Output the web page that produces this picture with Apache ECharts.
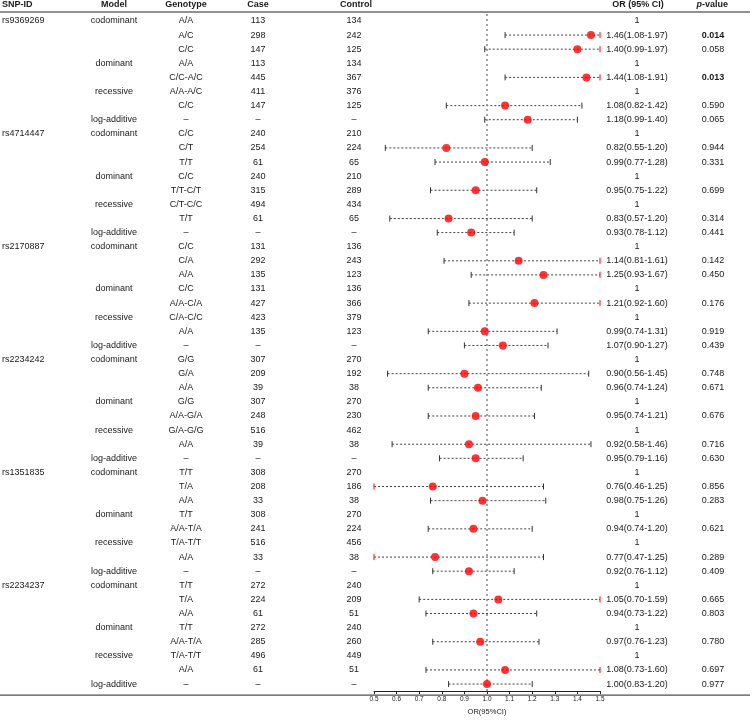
<!DOCTYPE html>
<html><head><meta charset="utf-8">
<script src="https://cdn.jsdelivr.net/npm/echarts@6/dist/echarts.min.js"></script>
<style>html,body{margin:0;padding:0;background:#fff}#c{width:752px;height:721px}</style>
</head><body><div id="c"></div>
<script>
const snpIds = ['rs9369269','rs4714447','rs2170887','rs2234242','rs1351835','rs2234237'];
const modelLabels = ['codominant','','','dominant','','recessive','','log-additive'];
const genotypes = [
 'A/A','A/C','C/C','A/A','C/C-A/C','A/A-A/C','C/C','–',
 'C/C','C/T','T/T','C/C','T/T-C/T','C/T-C/C','T/T','–',
 'C/C','C/A','A/A','C/C','A/A-C/A','C/A-C/C','A/A','–',
 'G/G','G/A','A/A','G/G','A/A-G/A','G/A-G/G','A/A','–',
 'T/T','T/A','A/A','T/T','A/A-T/A','T/A-T/T','A/A','–',
 'T/T','T/A','A/A','T/T','A/A-T/A','T/A-T/T','A/A','–'];
const caseCounts = [
 113,298,147,113,445,411,147,'–',
 240,254,61,240,315,494,61,'–',
 131,292,135,131,427,423,135,'–',
 307,209,39,307,248,516,39,'–',
 308,208,33,308,241,516,33,'–',
 272,224,61,272,285,496,61,'–'];
const controlCounts = [
 134,242,125,134,367,376,125,'–',
 210,224,65,210,289,434,65,'–',
 136,243,123,136,366,379,123,'–',
 270,192,38,270,230,462,38,'–',
 270,186,38,270,224,456,38,'–',
 240,209,51,240,260,449,51,'–'];
const orValues = [
 null,1.46,1.40,null,1.44,null,1.08,1.18,
 null,0.82,0.99,null,0.95,null,0.83,0.93,
 null,1.14,1.25,null,1.21,null,0.99,1.07,
 null,0.90,0.96,null,0.95,null,0.92,0.95,
 null,0.76,0.98,null,0.94,null,0.77,0.92,
 null,1.05,0.94,null,0.97,null,1.08,1.00];
const ciLower = [
 null,1.08,0.99,null,1.08,null,0.82,0.99,
 null,0.55,0.77,null,0.75,null,0.57,0.78,
 null,0.81,0.93,null,0.92,null,0.74,0.90,
 null,0.56,0.74,null,0.74,null,0.58,0.79,
 null,0.46,0.75,null,0.74,null,0.47,0.76,
 null,0.70,0.73,null,0.76,null,0.73,0.83];
const ciUpper = [
 null,1.97,1.97,null,1.91,null,1.42,1.40,
 null,1.20,1.28,null,1.22,null,1.20,1.12,
 null,1.61,1.67,null,1.60,null,1.31,1.27,
 null,1.45,1.24,null,1.21,null,1.46,1.16,
 null,1.25,1.26,null,1.20,null,1.25,1.12,
 null,1.59,1.22,null,1.23,null,1.60,1.20];
const pValues = [
 '','0.014','0.058','','0.013','','0.590','0.065',
 '','0.944','0.331','','0.699','','0.314','0.441',
 '','0.142','0.450','','0.176','','0.919','0.439',
 '','0.748','0.671','','0.676','','0.716','0.630',
 '','0.856','0.283','','0.621','','0.289','0.409',
 '','0.665','0.803','','0.780','','0.697','0.977'];
const xTicks = [0.5,0.6,0.7,0.8,0.9,1.0,1.1,1.2,1.3,1.4,1.5];

const nRows = genotypes.length;
const rowIdx = Array.from({length:nRows},(_,i)=>String(i));
const FONT = 'Liberation Sans, Arial, sans-serif';
const XMIN = 0.5, XMAX = 1.5;

const chart = echarts.init(document.getElementById('c'), null, {renderer:'canvas'});

function orText(i){
  if (orValues[i] == null) return '1';
  return orValues[i].toFixed(2)+'('+ciLower[i].toFixed(2)+'-'+ciUpper[i].toFixed(2)+')';
}

function txt(x, y, s, align, size, weight, style){
  return {type:'text', silent:true, style:{text:String(s), x:x, y:y, textAlign:align, textVerticalAlign:'middle',
    font:(style||'normal')+' '+(weight||'normal')+' '+size+'px '+FONT, fill:'#1a1a1a'}};
}

const tableData = rowIdx.map((_,i)=>[1,i]);
const ciData = [];
const ptData = [];
for (let i=0;i<nRows;i++){
  if (orValues[i]!=null){
    ciData.push([ciLower[i], ciUpper[i], i]);
    ptData.push([orValues[i], i]);
  }
}

const option = {
  animation:false,
  backgroundColor:'#fff',
  grid:{left:374, right:152, top:13.9, bottom:25.9},
  xAxis:{type:'value', min:XMIN, max:XMAX, interval:0.1,
    axisLine:{show:true, lineStyle:{color:'#222', width:1}},
    axisTick:{show:true, length:3, lineStyle:{color:'#222'}},
    axisLabel:{fontSize:6.5, color:'#222', margin:5, fontFamily:FONT, formatter:v=>v.toFixed(1)},
    splitLine:{show:false},
    name:'OR(95%CI)', nameLocation:'middle', nameGap:15,
    nameTextStyle:{fontSize:7.5, color:'#222', fontFamily:FONT}},
  yAxis:{type:'category', data:rowIdx, inverse:true, show:false},
  graphic:[
    {type:'line', shape:{x1:0,y1:12,x2:750,y2:12}, style:{stroke:'#222', lineWidth:1}},
    {type:'line', shape:{x1:0,y1:695.1,x2:750,y2:695.1}, style:{stroke:'#222', lineWidth:1}},
    txt(2,5,'SNP-ID','left',9,'bold'),
    txt(114,5,'Model','center',9,'bold'),
    txt(186,5,'Genotype','center',9,'bold'),
    txt(258,5,'Case','center',9,'bold'),
    txt(356,5,'Control','center',9,'bold'),
    txt(638,5,'OR (95% CI)','center',9,'bold'),
    txt(702,5,'p','right',9,'bold','italic'),
    txt(702,5,'-value','left',9,'bold')
  ],
  series:[
    {type:'custom', coordinateSystem:'cartesian2d', clip:false, silent:true,
     data:tableData, encode:{x:0,y:1},
     renderItem:function(params, api){
       const i = api.value(1);
       const y = api.coord([1,i])[1];
       const k = i % 8;
       const ch = [];
       if (k===0) ch.push(txt(2,y,snpIds[Math.floor(i/8)],'left',9));
       if (modelLabels[k]) ch.push(txt(114,y,modelLabels[k],'center',9));
       ch.push(txt(186,y,genotypes[i],'center',9));
       ch.push(txt(258,y,caseCounts[i],'center',9));
       ch.push(txt(354,y,controlCounts[i],'center',9));
       ch.push(txt(637,y,orText(i),'center',9));
       if (pValues[i]) ch.push(txt(713,y,pValues[i],'center',9, parseFloat(pValues[i])<0.05?'bold':'normal'));
       return {type:'group', children:ch};
     }},
    {type:'custom', coordinateSystem:'cartesian2d', clip:false, silent:true,
     data:ciData, encode:{x:[0,1], y:2}, z:3,
     renderItem:function(params, api){
       const lo = api.value(0), hi = api.value(1), i = api.value(2);
       const a = api.coord([Math.max(lo,XMIN), i]);
       const b = api.coord([Math.min(hi,XMAX), i]);
       const capH = 3;
       const loClip = lo < XMIN, hiClip = hi > XMAX;
       return {type:'group', children:[
         {type:'line', shape:{x1:a[0],y1:a[1],x2:b[0],y2:b[1]}, style:{stroke:'#444', lineWidth:1, lineDash:[2,2]}},
         {type:'line', shape:{x1:a[0],y1:a[1]-capH,x2:a[0],y2:a[1]+capH}, style:{stroke:loClip?'#ff0000':'#333', lineWidth:1}},
         {type:'line', shape:{x1:b[0],y1:b[1]-capH,x2:b[0],y2:b[1]+capH}, style:{stroke:hiClip?'#ff0000':'#333', lineWidth:1}}
       ]};
     }},
    {type:'scatter', data:ptData, symbol:'circle', symbolSize:8, z:5, silent:true,
     itemStyle:{color:'#ff0000'},
     markLine:{silent:true, symbol:'none', label:{show:false},
       lineStyle:{type:[2,3], color:'#888', width:1.5},
       data:[{xAxis:1}]}}
  ]
};
chart.setOption(option);
</script></body></html>
